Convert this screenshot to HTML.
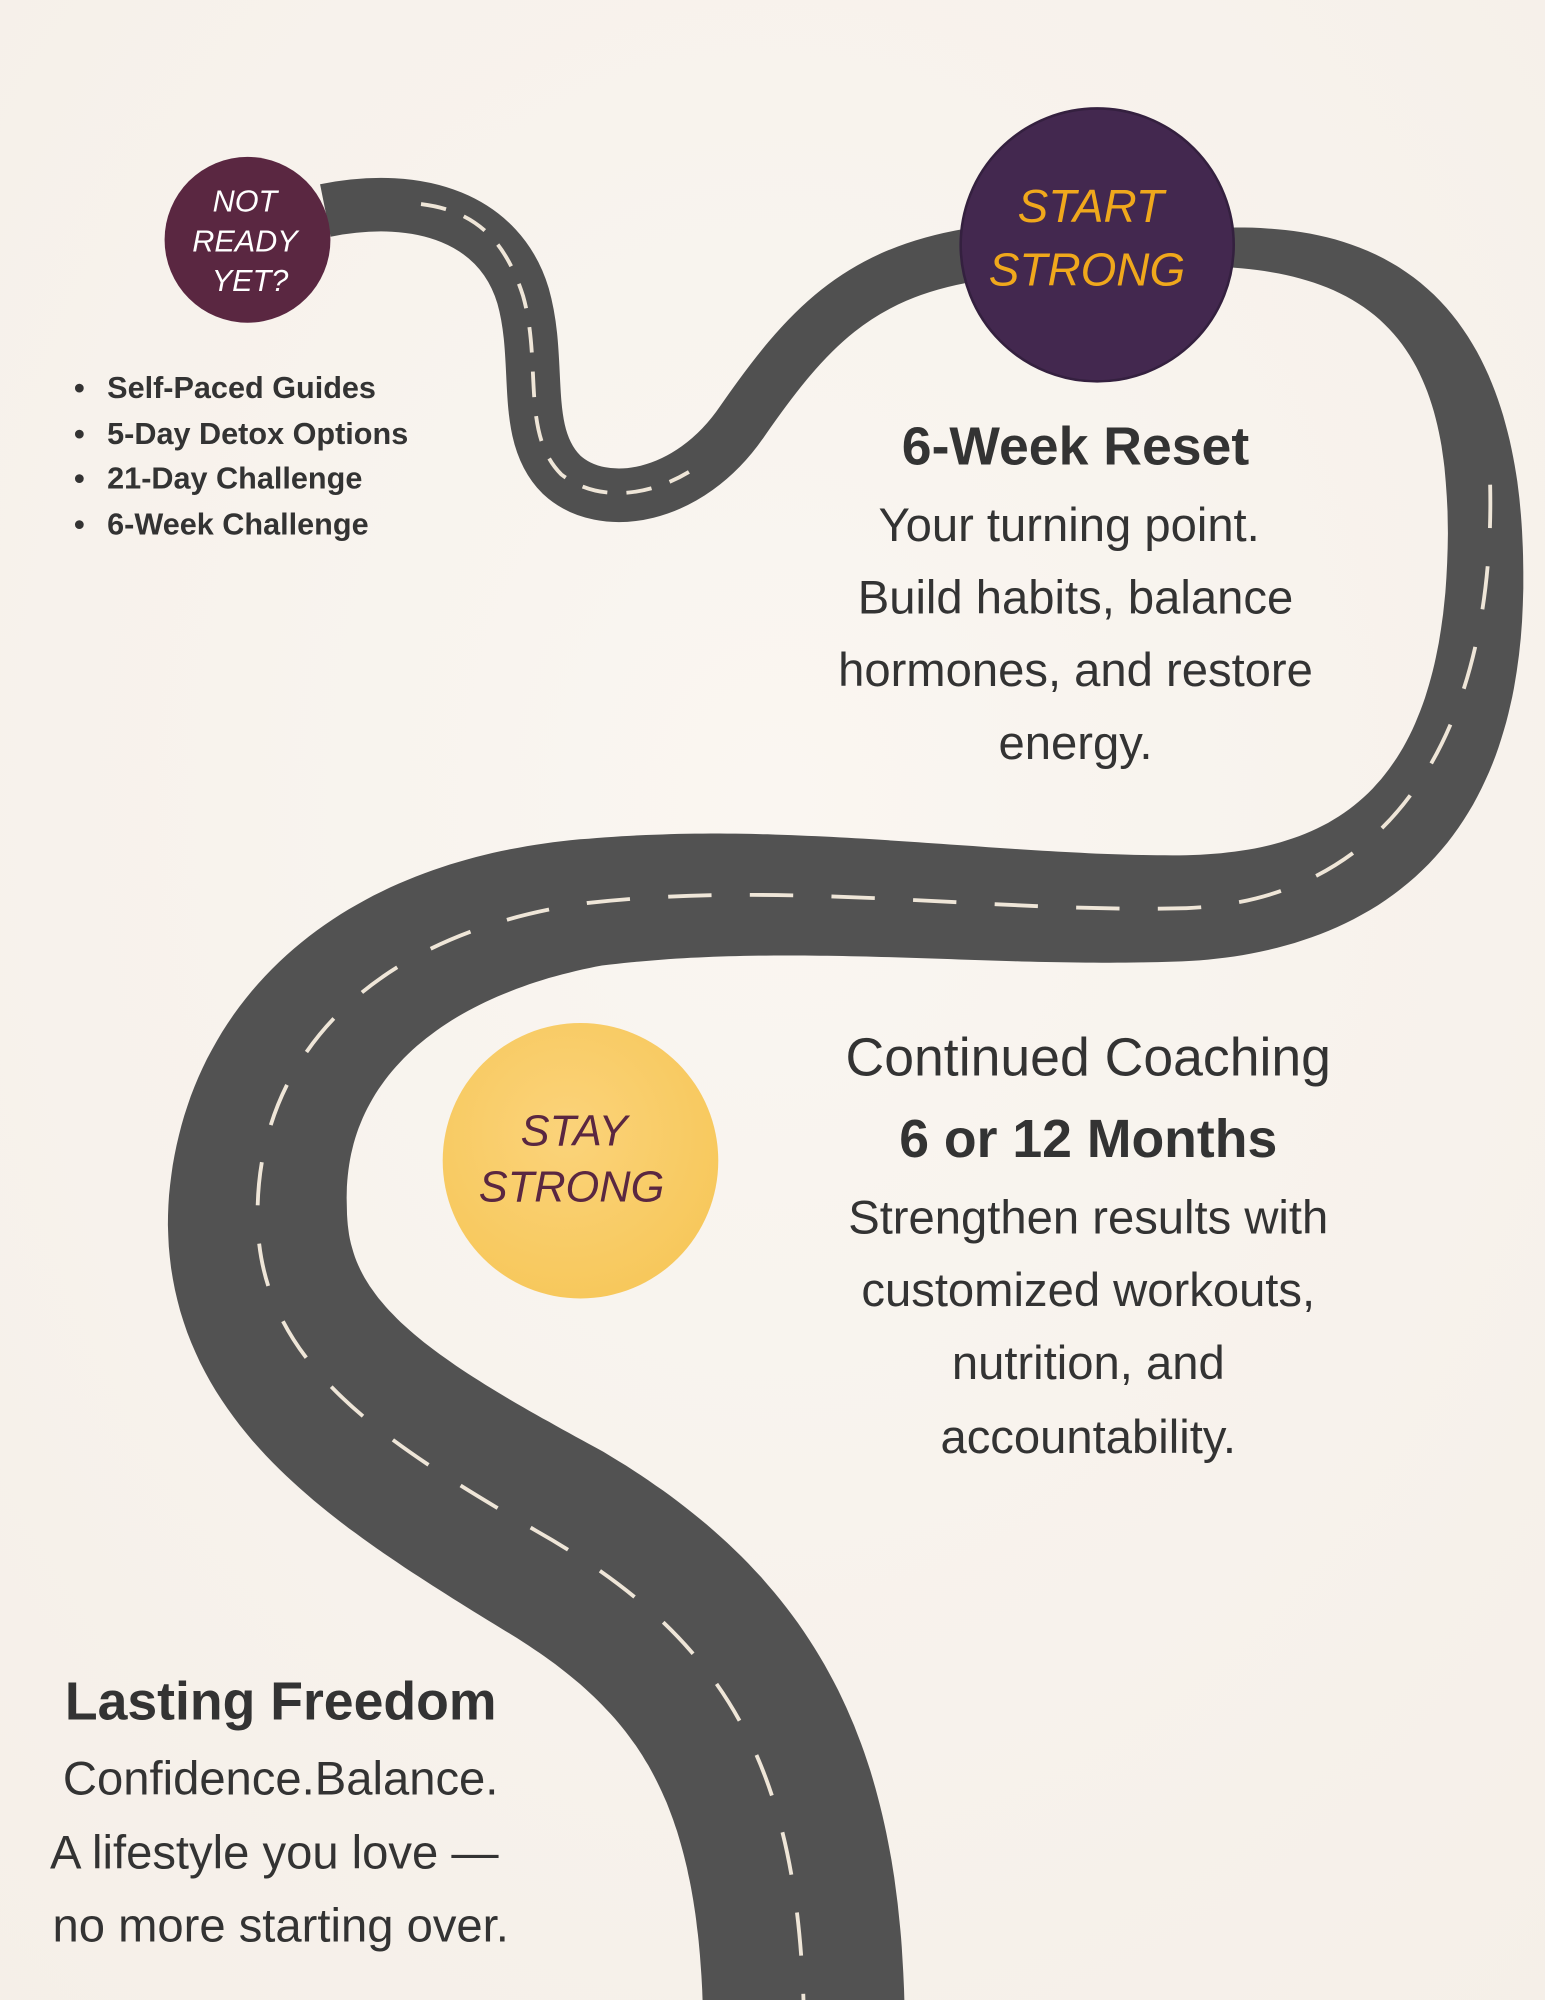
<!DOCTYPE html>
<html><head><meta charset="utf-8"><style>
html,body{margin:0;padding:0;background:#f8f3ee;}
svg{display:block}
</style></head><body>
<svg id="s" width="1545" height="2000" viewBox="0 0 1211 1568" preserveAspectRatio="none" xmlns="http://www.w3.org/2000/svg">
<defs>
<radialGradient id="bg" cx="0.5" cy="0.4" r="0.8"><stop offset="0" stop-color="#faf6f1"/><stop offset="1" stop-color="#f5efe8"/></radialGradient>
<radialGradient id="yel" cx="0.45" cy="0.4" r="0.6"><stop offset="0" stop-color="#fbd37a"/><stop offset="1" stop-color="#f7c85c"/></radialGradient>
</defs>
<rect width="1211" height="1568" fill="url(#bg)"/>
<path d="M255,165 C330,150 392,172 410,232 C425,285 408,340 440,372 C472,402 540,392 582,330 C632,258 672,215 760,200" fill="none" stroke="#505050" stroke-width="42"/>
<path d="M330,160 C370,165 395,185 410,232 C425,285 408,340 440,372 C470,395 510,388 540,370" fill="none" stroke="#efe6d8" stroke-width="3" stroke-dasharray="20,15"/>
<path id="big" d="M950,194 C1090,192 1160,260 1164,420 C1168,600 1100,705 930,712 C780,716 620,690 460,708 C290,732 198,830 202,960 C206,1070 300,1130 420,1200 C565,1282 625,1380 630,1575" fill="none" stroke="#525252" stroke-width="60"/>
<polygon id="bigpoly" fill="#525252" points=""/>
<path d="M1168,380 C1172,560 1100,705 930,712 C780,716 620,690 460,708 C290,732 198,830 202,960 C206,1070 300,1130 420,1200 C565,1282 625,1380 630,1575" fill="none" stroke="#efe6d8" stroke-width="3" stroke-dasharray="34,30"/>
<circle cx="194" cy="188" r="65" fill="#5a2741"/>
<circle cx="860" cy="192" r="107" fill="#43284f" stroke="#34203f" stroke-width="2"/>
<circle cx="455" cy="910" r="108" fill="url(#yel)"/>
<g font-family="Liberation Sans, sans-serif" font-style="italic" text-anchor="middle">
<text x="192" y="166" font-size="24" fill="#fff">NOT</text>
<text x="192" y="197" font-size="24" fill="#fff">READY</text>
<text x="196" y="228" font-size="24" fill="#fff">YET?</text>
<text x="855" y="174" font-size="36" fill="#f0a81c">START</text>
<text x="852" y="224" font-size="36" fill="#f0a81c">STRONG</text>
<text x="450" y="898" font-size="34" fill="#5a2741">STAY</text>
<text x="448" y="942" font-size="34" fill="#5a2741">STRONG</text>
</g>
<g font-family="Liberation Sans, sans-serif" fill="#333">
<g font-size="24" font-weight="bold">
<text x="58" y="312">•</text><text x="84" y="312">Self-Paced Guides</text>
<text x="58" y="348">•</text><text x="84" y="348">5-Day Detox Options</text>
<text x="58" y="383">•</text><text x="84" y="383">21-Day Challenge</text>
<text x="58" y="419">•</text><text x="84" y="419">6-Week Challenge</text>
</g>
<g text-anchor="middle">
<text x="843" y="364" font-size="42" font-weight="bold">6-Week Reset</text>
<text x="838" y="424" font-size="37">Your turning point.</text>
<text x="843" y="481" font-size="37">Build habits, balance</text>
<text x="843" y="538" font-size="37">hormones, and restore</text>
<text x="843" y="595" font-size="37">energy.</text>
<text x="853" y="843" font-size="42">Continued Coaching</text>
<text x="853" y="907" font-size="42" font-weight="bold">6 or 12 Months</text>
<text x="853" y="967" font-size="37">Strengthen results with</text>
<text x="853" y="1024" font-size="37">customized workouts,</text>
<text x="853" y="1081" font-size="37">nutrition, and</text>
<text x="853" y="1139" font-size="37">accountability.</text>
<text x="220" y="1348" font-size="42" font-weight="bold">Lasting Freedom</text>
<text x="220" y="1407" font-size="37">Confidence.Balance.</text>
<text x="215" y="1465" font-size="37">A lifestyle you love —</text>
<text x="220" y="1522" font-size="37">no more starting over.</text>
</g>
</g>
</svg>
<script>
(function(){
var p=document.getElementById('big');
var L=p.getTotalLength();
var prof=[[0,30],[0.13,56],[0.31,82],[0.51,100],[0.67,140],[0.82,160],[1,158]];
function w(t){for(var i=1;i<prof.length;i++){if(t<=prof[i][0]){var a=prof[i-1],b=prof[i];var f=(t-a[0])/(b[0]-a[0]);return a[1]+(b[1]-a[1])*f;}}return prof[prof.length-1][1];}
var N=400,L1=[],R1=[];
for(var i=0;i<=N;i++){
var s=L*i/N;var pt=p.getPointAtLength(s);
var p0=p.getPointAtLength(Math.max(0,s-1)),p1=p.getPointAtLength(Math.min(L,s+1));
var dx=p1.x-p0.x,dy=p1.y-p0.y,d=Math.sqrt(dx*dx+dy*dy)||1;
var nx=-dy/d,ny=dx/d,h=w(i/N)/2;
L1.push((pt.x+nx*h).toFixed(1)+','+(pt.y+ny*h).toFixed(1));
R1.push((pt.x-nx*h).toFixed(1)+','+(pt.y-ny*h).toFixed(1));
}
document.getElementById('bigpoly').setAttribute('points',L1.concat(R1.reverse()).join(' '));
p.setAttribute('stroke','none');
})();
</script>
</body></html>
